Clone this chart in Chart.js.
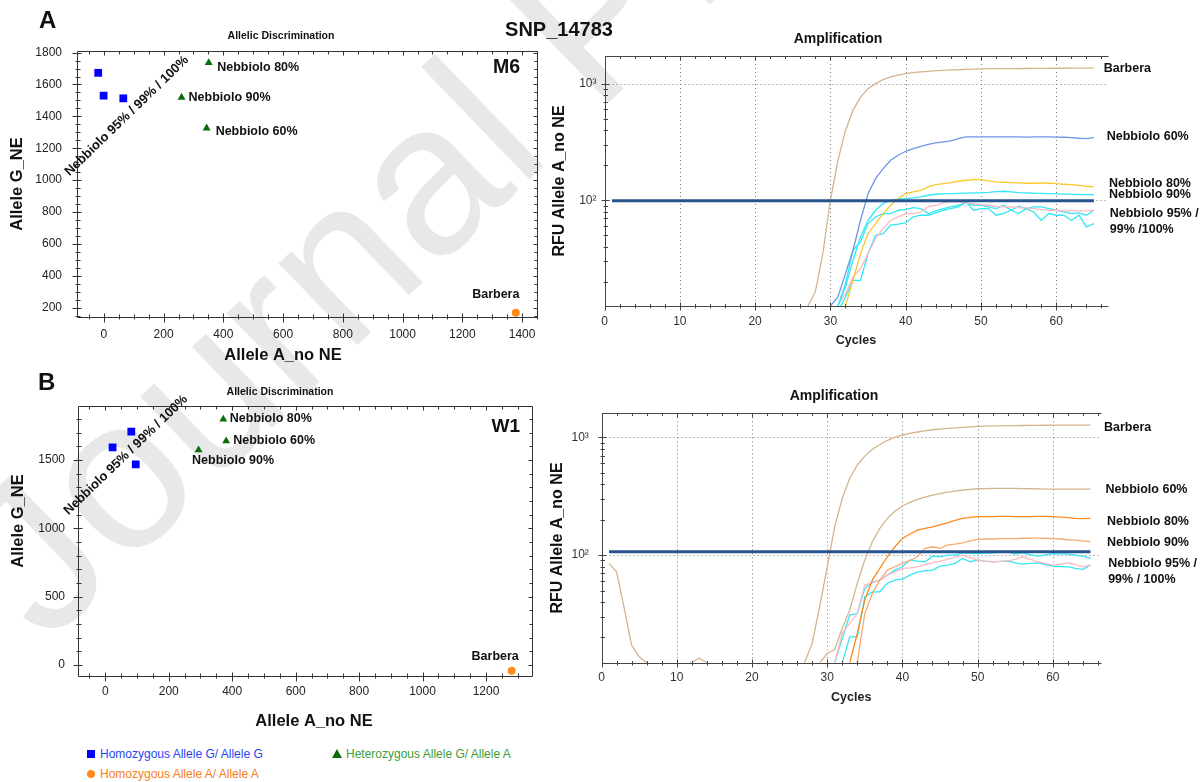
<!DOCTYPE html>
<html lang="en">
<head>
<meta charset="utf-8">
<title>SNP_14783 - allelic discrimination and amplification</title>
<script src="https://cdn.jsdelivr.net/npm/chart.js@4.4.1/dist/chart.umd.min.js"></script>
<style>
  html, body { margin: 0; padding: 0; background: #fff; }
  body { position: relative; width: 1204px; height: 782px; overflow: hidden;
         font-family: "Liberation Sans", Arial, Helvetica, sans-serif; color: #111; }
  canvas { position: absolute; }
  .txt { position: absolute; white-space: nowrap; }
  .watermark { left: 46px; top: 464px; font-size: 215px; line-height: 215px; color: #e8e8e8;
               transform-origin: 0 182px; transform: rotate(-44deg); }
  .letter { font-weight: bold; font-size: 24px; line-height: 24px; }
  .snp { font-weight: bold; font-size: 20px; line-height: 20px; width: 200px; text-align: center; }
  .leg { font-size: 12px; line-height: 16px; }
  .mk { position: absolute; }
</style>
</head>
<body>
<div class="txt watermark">Journal Pre-proof</div>

<canvas id="scatA" width="564" height="370" style="left:0;top:0"></canvas>
<canvas id="ampA" width="664" height="370" style="left:540px;top:0"></canvas>
<canvas id="scatB" width="564" height="365" style="left:0;top:370px"></canvas>
<canvas id="ampB" width="664" height="340" style="left:540px;top:380px"></canvas>

<div class="txt letter" style="left:39px;top:8px">A</div>
<div class="txt letter" style="left:38px;top:370px">B</div>
<div class="txt snp" style="left:459px;top:19px">SNP_14783</div>

<div class="mk" style="left:87px;top:750px;width:8px;height:8px;background:#0000ff"></div>
<div class="txt leg" style="left:100px;top:746px;color:#2746f0">Homozygous Allele G/ Allele G</div>
<div class="mk" style="left:332px;top:749px;width:0;height:0;border-left:5px solid transparent;border-right:5px solid transparent;border-bottom:9px solid #0b6e0b"></div>
<div class="txt leg" style="left:346px;top:746px;color:#3a9d3a">Heterozygous Allele G/ Allele A</div>
<div class="mk" style="left:87px;top:770px;width:8px;height:8px;border-radius:50%;background:#ff8c1a"></div>
<div class="txt leg" style="left:100px;top:766px;color:#f7801a">Homozygous Allele A/ Allele A</div>

<script>
const FONT = '"Liberation Sans", Arial, Helvetica, sans-serif';
Chart.defaults.font.family = FONT;
Chart.defaults.color = '#222';
Chart.defaults.animation = false;

// --- ALLELIC DISCRIMINATION (end-point RFU, [allele A, allele G]) ---
const A_HOM_G = [[-19, 1673], [-1, 1530], [65, 1513]];     // Nebbiolo 95% / 99% / 100%
const A_HET   = [[351, 1736], [260, 1519], [344, 1326]];   // Nebbiolo 80%, 90%, 60%
const A_HOM_A = [[1379, 169]];                              // Barbera
const B_HOM_G = [[23, 1593], [82, 1707], [96, 1468]];
const B_HET   = [[372, 1798], [381, 1639], [294, 1573]];   // Nebbiolo 80%, 60%, 90%
const B_HOM_A = [[1281, -41]];

const A_X_TICKS = [0, 200, 400, 600, 800, 1000, 1200, 1400];
const A_Y_TICKS = [200, 400, 600, 800, 1000, 1200, 1400, 1600, 1800];
const B_X_TICKS = [0, 200, 400, 600, 800, 1000, 1200];
const B_Y_TICKS = [0, 500, 1000, 1500];

// --- AMPLIFICATION (RFU allele A per cycle, null = below the plotted range) ---
const _ = null;
const CYCLES = [1, 2, 3, 4, 5, 6, 7, 8, 9, 10, 11, 12, 13, 14, 15, 16, 17, 18, 19, 20,
  21, 22, 23, 24, 25, 26, 27, 28, 29, 30, 31, 32, 33, 34, 35, 36, 37, 38, 39, 40,
  41, 42, 43, 44, 45, 46, 47, 48, 49, 50, 51, 52, 53, 54, 55, 56, 57, 58, 59, 60,
  61, 62, 63, 64, 65];
const AMP_X_TICKS = [0, 10, 20, 30, 40, 50, 60];
const AMP_Y_TICKS = [100, 1000];
const AMP_Y_LABELS = ['10²', '10³'];
const AMP_Y_MINOR = [20, 30, 40, 50, 60, 70, 80, 90, 200, 300, 400, 500, 600, 700, 800, 900];

// M6
const M6_THRESHOLD = 99;
const M6_BARBERA = [_,_,_,_,_,_,_,_,_,_, _,_,_,_,_,_,_,_,_,_, _,_,_,_,_,_,
  12.4, 16.4, 35, 100, 220, 395, 590, 765, 905, 1000, 1080, 1140, 1180, 1220, 1240, 1260, 1275,
  1290, 1300, 1310, 1315, 1325, 1330, 1340, 1342, 1344, 1345, 1346, 1347, 1348, 1350, 1350,
  1352, 1354, 1355, 1356, 1358, 1360, 1362];
const M6_NEB60 = [_,_,_,_,_,_,_,_,_,_, _,_,_,_,_,_,_,_,_,_, _,_,_,_,_,_,_,_,_,
  12.4, 14.8, 23.5, 37.3, 67.4, 114, 153, 187, 220, 243, 263, 277, 290, 302, 310, 316, 323, 338,
  349, 349, 350, 350, 349, 349, 350, 349, 348, 349, 350, 349, 348, 347, 345, 340, 338, 345];
const M6_NEB80 = [_,_,_,_,_,_,_,_,_,_, _,_,_,_,_,_,_,_,_,_, _,_,_,_,_,_,_,_,_,_, _,
  12.4, 20.6, 34.9, 51.8, 63.1, 76.9, 90.6, 103.3, 114, 117.9, 121.8, 130, 136.2, 139, 141.8,
  145.5, 148.4, 150.4, 150.4, 146.4, 143.6, 142.7, 141.8, 140.8, 139.9, 139.9, 140.8, 139.9,
  139, 137.1, 136.2, 134.4, 131.8, 130];
const M6_NEB90 = [_,_,_,_,_,_,_,_,_,_, _,_,_,_,_,_,_,_,_,_, _,_,_,_,_,_,_,_,_,_,
  12.4, 18.1, 30.6, 48.5, 67.4, 82.1, 93.6, 100, 102, 103.3, 104.7, 106.8, 110.4, 112.6, 113.3,
  114, 114.5, 115, 115.5, 116, 117, 118.5, 119.4, 118, 116.3, 115.5, 114.8, 114.5, 114, 113.3,
  112.8, 112.3, 112, 111.8, 111.8];
const M6_NEB95_1 = [_,_,_,_,_,_,_,_,_,_, _,_,_,_,_,_,_,_,_,_, _,_,_,_,_,_,_,_,_,_,
  12.4, 19.3, 37.3, 44, 63.1, 71.9, 76.9, 76.9, 82.1, 83.2, 86.5, 84.8, 76.9, 81, 84.8, 87.7,
  90.6, 94.9, 90.6, 90.6, 87.7, 84.8, 90.6, 82.1, 88.8, 84.8, 87.7, 87.7, 84.8, 82.1, 79.4,
  76.9, 77.9, 74.4, 82.1];
const M6_NEB95_2 = [_,_,_,_,_,_,_,_,_,_, _,_,_,_,_,_,_,_,_,_, _,_,_,_,_,_,_,_,_,_,
  11, 14.8, 20.6, 20.6, 34.9, 50.1, 51.8, 61.1, 62.3, 63.9, 71.9, 74.4, 74.4, 77.9, 82.1, 84.8,
  87.7, 96.8, 82.1, 84.8, 84.8, 74.4, 76.9, 82.1, 76.9, 84.8, 79.4, 67.4, 76.9, 74.4, 74.4,
  67.4, 74.4, 59.1, 63.1];
const M6_NEB95_3 = [_,_,_,_,_,_,_,_,_,_, _,_,_,_,_,_,_,_,_,_, _,_,_,_,_,_,_,_,_,_,
  12.6, 15.8, 22, 25.9, 34.9, 46.9, 57.2, 67.4, 71.9, 76.9, 76.9, 79.4, 87.7, 90.6, 94.9, 96.8,
  96.8, 94.9, 93.6, 91.8, 90.6, 88.8, 87.7, 87.7, 86.5, 85.9, 84.8, 83.2, 82.1, 82.1, 81, 81,
  81, 81, 82.1];

// W1
const W1_THRESHOLD = 107;
const W1_BARBERA = [85, 72, 36, 17.2, 13.7, 12.2, 11.5, 11, 11, 11, 11.5, 12.3, 13.3, 12.2,
  11, 11, 11, 11, 11, 11, 11, 11, 11, 11, 11, 11,
  12.2, 17.8, 36.4, 79.6, 174, 303, 449, 582, 693, 790, 870, 944, 1000, 1047, 1080, 1110, 1135,
  1160, 1175, 1190, 1203, 1215, 1228, 1240, 1245, 1249, 1252, 1255, 1258, 1260, 1262, 1265,
  1267, 1270, 1270, 1270, 1270, 1270, 1270];
const W1_NEB60 = [_,_,_,_,_,_,_,_,_,_, _,_,_,_,_,_,_,_,_,_, _,_,_,_,_,_,_,_,
  12.2, 14.6, 15.8, 23.8, 34.1, 57.5, 90.7, 129.8, 168.5, 205, 236, 261, 280, 297, 310, 323,
  333, 343, 350, 357, 362, 366, 367, 368, 368, 368, 368, 367, 366, 365, 364, 364, 364, 363,
  363, 364, 364];
const W1_NEB80 = [_,_,_,_,_,_,_,_,_,_, _,_,_,_,_,_,_,_,_,_, _,_,_,_,_,_,_,_,_,_, _,_,
  12.2, 21.6, 41.5, 61.3, 77, 96.8, 117.7, 138.6, 151, 163, 169, 174, 181, 188, 197, 205, 209,
  212, 212, 212, 213, 213, 212, 212, 212, 213, 213, 212, 210, 208, 205, 204, 205];
const W1_NEB90 = [_,_,_,_,_,_,_,_,_,_, _,_,_,_,_,_,_,_,_,_, _,_,_,_,_,_,_,_,_,_, _,_,_,
  12.2, 31.9, 47.2, 61.3, 74.6, 79.6, 85, 90, 96.8, 114, 117.7, 114, 121.6, 124, 127, 132, 136,
  137, 137, 138, 138, 138, 139, 139.5, 139.5, 139, 138, 137, 135, 134, 132, 130];
const W1_NEB95_1 = [_,_,_,_,_,_,_,_,_,_, _,_,_,_,_,_,_,_,_,_, _,_,_,_,_,_,_,_,_,_,
  12.2, 19.6, 30.9, 31.9, 52, 59, 61.3, 67.6, 74.6, 79.6, 90.7, 89, 87.8, 98, 96.8, 100, 100,
  104.6, 103.5, 103, 104, 104.6, 105.5, 106.7, 102, 104.6, 101, 98, 100.5, 103, 102.5, 102,
  100, 98, 93.7];
const W1_NEB95_2 = [_,_,_,_,_,_,_,_,_,_, _,_,_,_,_,_,_,_,_,_, _,_,_,_,_,_,_,_,_,_, _,
  12.2, 20.2, 20.2, 44.2, 48.8, 48.8, 57.5, 61.3, 62.5, 67.6, 72, 73.6, 74.6, 80.6, 82.3, 85,
  93.7, 87.8, 90.7, 89, 87.8, 88.5, 89, 86, 83.8, 85, 86, 83, 80.6, 80, 79.6, 77, 75.6, 82.3];
const W1_NEB95_3 = [_,_,_,_,_,_,_,_,_,_, _,_,_,_,_,_,_,_,_,_, _,_,_,_,_,_,_,_,_,_,
  12.2, 21.6, 26.3, 31.9, 55.6, 58.2, 61.3, 67.6, 72, 77, 78, 79.6, 83, 86, 89, 91.9, 96, 100,
  95, 90.7, 89, 87.8, 88.5, 89.5, 92, 96.8, 92, 87.8, 85, 82.3, 84, 86, 83, 79.6, 82.3];

// --- COLOURS ---
const BLUE = '#0000ff', GREEN = '#0b6e0b', ORANGE = '#ff8c1a';
const TAN = '#d4b48e', CORNFLOWER = '#6f95e6', GOLD = '#f9c92b', CYAN = '#35e6f3',
      PINK = '#ffb8c4', DARKORANGE = '#ff8a1c', SANDY = '#f6aa6e', THRESH = '#27538f';

const f = (size, bold) => `${bold ? 'bold ' : ''}${size}px ${FONT}`;

// --- PLUGINS ---
// frame + inward/outward tick marks on the plot border
const frameTicks = {
  id: 'frameTicks',
  afterDraw(chart, args, o) {
    const { ctx, chartArea: a, scales: { x, y } } = chart;
    const L = Math.round(a.left) + 0.5, R = Math.round(a.right) + 0.5;
    const T = Math.round(a.top) + 0.5, B = Math.round(a.bottom) + 0.5;
    const stepped = (scale, step) => {
      const out = [];
      for (let v = Math.ceil(scale.min / step) * step; v <= scale.max; v += step) out.push(v);
      return out;
    };
    const isMajor = (list, v) => list.some(m => Math.abs(m - v) < 1e-6);
    const xVals = stepped(x, o.xStep);
    const yVals = o.yMinor ? o.yMinor.concat(o.yMajor) : stepped(y, o.yStep);

    ctx.save();
    ctx.strokeStyle = o.color;
    ctx.lineWidth = 1;
    ctx.beginPath();
    ctx.moveTo(R, T); ctx.lineTo(L, T); ctx.lineTo(L, B); ctx.lineTo(R, B);
    if (o.right) ctx.lineTo(R, T);
    xVals.forEach(v => {
      const px = Math.round(x.getPixelForValue(v)) + 0.5;
      if (px < L - 0.1 || px > R + 0.1) return;
      const m = isMajor(o.xMajor, v);
      const inn = m ? o.majorIn : o.minorIn, out = m ? o.majorOut : o.minorOut;
      ctx.moveTo(px, B - inn); ctx.lineTo(px, B + out);
      ctx.moveTo(px, T); ctx.lineTo(px, T + inn);
    });
    yVals.forEach(v => {
      const py = Math.round(y.getPixelForValue(v)) + 0.5;
      if (py < T - 0.1 || py > B + 0.1) return;
      const m = isMajor(o.yMajor, v);
      const inn = m ? o.majorIn : o.minorIn, out = m ? o.majorOut : o.minorOut;
      ctx.moveTo(L - out, py); ctx.lineTo(L + inn, py);
      if (o.right) { ctx.moveTo(R - inn, py); ctx.lineTo(R, py); }
    });
    ctx.stroke();
    ctx.restore();
  }
};

// dotted reference grid of the amplification plots
const dottedGrid = {
  id: 'dottedGrid',
  beforeDatasetsDraw(chart, args, o) {
    const { ctx, chartArea: a, scales: { x, y } } = chart;
    ctx.save();
    ctx.strokeStyle = o.color;
    ctx.lineWidth = 1;
    ctx.setLineDash([1, 3]);
    ctx.beginPath();
    o.x.forEach(v => {
      const px = Math.round(x.getPixelForValue(v)) + 0.5;
      ctx.moveTo(px, a.top); ctx.lineTo(px, a.bottom);
    });
    o.y.forEach(v => {
      const py = Math.round(y.getPixelForValue(v)) + 0.5;
      ctx.moveTo(a.left, py); ctx.lineTo(a.right, py);
    });
    ctx.stroke();
    ctx.restore();
  }
};

// text marks: anchored to data values (at) or to canvas pixels (px, py)
function textMarks(items) {
  return {
    id: 'textMarks',
    afterDraw(chart) {
      const { ctx, scales } = chart;
      items.forEach(it => {
        let px = it.px, py = it.py;
        if (it.at) {
          px = scales.x.getPixelForValue(it.at[0]);
          py = scales.y.getPixelForValue(it.at[1]);
        }
        ctx.save();
        ctx.translate(px + (it.dx || 0), py + (it.dy || 0));
        if (it.rotate) ctx.rotate(it.rotate * Math.PI / 180);
        ctx.font = it.font || f(12.5, true);
        ctx.fillStyle = it.color || '#111';
        ctx.textAlign = it.align || 'left';
        ctx.textBaseline = 'middle';
        ctx.fillText(it.text, 0, 0);
        ctx.restore();
      });
    }
  };
}

const pts = list => list.map(([x, y]) => ({ x, y }));
const noGrid = { display: false, drawTicks: false };

function scatterChart(id, c) {
  return new Chart(document.getElementById(id), {
    type: 'scatter',
    data: {
      datasets: [
        { label: 'Homozygous Allele G/ Allele G', data: pts(c.homG), pointStyle: 'rect',
          pointRadius: 5.5, backgroundColor: BLUE, borderColor: BLUE, borderWidth: 0 },
        { label: 'Heterozygous Allele G/ Allele A', data: pts(c.het), pointStyle: 'triangle',
          pointRadius: 4.6, backgroundColor: GREEN, borderColor: GREEN, borderWidth: 0 },
        { label: 'Homozygous Allele A/ Allele A', data: pts(c.homA), pointStyle: 'circle',
          pointRadius: 4, backgroundColor: ORANGE, borderColor: ORANGE, borderWidth: 0 },
      ],
    },
    options: {
      responsive: false,
      animation: false,
      layout: { padding: { left: 0, right: c.padRight, top: c.padTop, bottom: 0 } },
      scales: {
        x: {
          type: 'linear', min: c.xMin, max: c.xMax,
          afterBuildTicks: s => { s.ticks = c.xTicks.map(value => ({ value })); },
          afterFit: s => { s.height = c.xHeight; },
          grid: noGrid, border: { display: false },
          ticks: { padding: c.xPad, autoSkip: false, maxRotation: 0, font: { size: 12 }, color: '#222',
                   callback: v => String(v) },
        },
        y: {
          type: 'linear', min: c.yMin, max: c.yMax,
          afterBuildTicks: s => { s.ticks = c.yTicks.map(value => ({ value })); },
          afterFit: s => { s.width = c.yWidth; },
          grid: noGrid, border: { display: false },
          ticks: { padding: c.yPad, autoSkip: false, font: { size: 12 }, color: '#222',
                   callback: v => String(v) },
          title: c.yTitle,
        },
      },
      plugins: {
        legend: { display: false },
        tooltip: { enabled: false },
        frameTicks: { color: '#333', right: true, xStep: 50, yStep: c.yStep,
          xMajor: c.xTicks, yMajor: c.yTicks, majorIn: 4, majorOut: 5, minorIn: 3, minorOut: 2 },
      },
    },
    plugins: [frameTicks, textMarks(c.marks)],
  });
}

function ampChart(id, c) {
  const lines = c.series.map(([values, color]) => ({
    data: values.map((v, i) => ({ x: CYCLES[i], y: v })),
    borderColor: color, borderWidth: 1.3, pointRadius: 0, tension: 0,
  }));
  const threshold = {
    data: [{ x: CYCLES[0], y: c.threshold }, { x: CYCLES[CYCLES.length - 1], y: c.threshold }],
    borderColor: THRESH, borderWidth: 3, pointRadius: 0,
  };
  return new Chart(document.getElementById(id), {
    type: 'line',
    data: { datasets: [threshold, ...lines] },
    options: {
      responsive: false,
      animation: false,
      layout: { padding: { left: 0, right: c.padRight, top: c.padTop, bottom: 0 } },
      scales: {
        x: {
          type: 'linear', min: 0, max: c.xMax,
          afterBuildTicks: s => { s.ticks = AMP_X_TICKS.map(value => ({ value })); },
          afterFit: s => { s.height = c.xHeight; },
          grid: noGrid, border: { display: false },
          ticks: { padding: c.xPad, autoSkip: false, maxRotation: 0, font: { size: 12 }, color: '#333' },
          title: { display: true, text: 'Cycles', font: { size: 12.5, weight: 'bold' },
                   color: '#222', padding: { top: 0, bottom: c.cyclesPad } },
        },
        y: {
          type: 'logarithmic', min: c.yMin, max: c.yMax,
          afterBuildTicks: s => { s.ticks = AMP_Y_TICKS.map(value => ({ value })); },
          afterFit: s => { s.width = c.yWidth; },
          grid: noGrid, border: { display: false },
          ticks: { padding: c.yPad, autoSkip: false, font: { size: 12 }, color: '#333',
                   callback: (v, i) => AMP_Y_LABELS[i] },
          title: { display: true, text: 'RFU Allele A_no NE', font: { size: 16, weight: 'bold' },
                   color: '#111', padding: { top: c.rfuPad, bottom: 0 } },
        },
      },
      plugins: {
        legend: { display: false },
        tooltip: { enabled: false },
        dottedGrid: { color: '#777', x: AMP_X_TICKS.slice(1), y: AMP_Y_TICKS },
        frameTicks: { color: '#444', right: false, xStep: 2, yMinor: AMP_Y_MINOR,
          xMajor: AMP_X_TICKS, yMajor: AMP_Y_TICKS, majorIn: 4, majorOut: 4, minorIn: 2.5, minorOut: 2 },
      },
    },
    plugins: [dottedGrid, frameTicks, textMarks(c.marks)],
  });
}

// --- PANEL A (M6) ---
scatterChart('scatA', {
  homG: A_HOM_G, het: A_HET, homA: A_HOM_A,
  xMin: -90, xMax: 1450, yMin: 142, yMax: 1810, xTicks: A_X_TICKS, yTicks: A_Y_TICKS, yStep: 50,
  padTop: 51, padRight: 27, xHeight: 53, yWidth: 77, xPad: 10.8, yPad: 15,
  yTitle: { display: true, text: 'Allele G_NE', font: { size: 16.5, weight: 'bold' }, color: '#111',
            padding: { top: 7.1, bottom: 0 } },
  marks: [
    { text: 'Allelic Discrimination', px: 281, py: 36, align: 'center', font: f(10.5, true) },
    { text: 'Allele A_no NE', px: 283, py: 355, align: 'center', font: f(16.5, true) },
    { text: 'Nebbiolo 80%', at: A_HET[0], dx: 8.5, dy: 5 },
    { text: 'Nebbiolo 90%', at: A_HET[1], dx: 7, dy: 0 },
    { text: 'Nebbiolo 60%', at: A_HET[2], dx: 9, dy: 3 },
    { text: 'Barbera', at: A_HOM_A[0], dx: -20, dy: -18, align: 'center' },
    { text: 'Nebbiolo 95% / 99% / 100%', at: [77, 1403], rotate: -44, align: 'center', font: f(13, true) },
    { text: 'M6', at: [1393, 1703], align: 'right', font: f(19.5, true) },
  ],
});

ampChart('ampA', {
  threshold: M6_THRESHOLD,
  series: [[M6_BARBERA, TAN], [M6_NEB60, CORNFLOWER], [M6_NEB80, GOLD], [M6_NEB90, CYAN],
           [M6_NEB95_3, PINK], [M6_NEB95_1, CYAN], [M6_NEB95_2, CYAN]],
  xMax: 66.8, yMin: 12.4, yMax: 1725,
  padTop: 56, padRight: 96.5, xHeight: 64, yWidth: 64.5, xPad: 8.8, yPad: 8,
  cyclesPad: 21.5, rfuPad: 10.4,
  marks: [
    { text: 'Amplification', px: 298, py: 39, align: 'center', font: f(14, true) },
    { text: 'Barbera', at: [66.3, 1343] },
    { text: 'Nebbiolo 60%', at: [66.7, 353] },
    { text: 'Nebbiolo 80%', at: [67, 139] },
    { text: 'Nebbiolo 90%', at: [67, 112.6] },
    { text: 'Nebbiolo 95% /', at: [67.1, 76.9] },
    { text: '99% /100%', at: [67.1, 56.1] },
  ],
});

// --- PANEL B (W1) ---
scatterChart('scatB', {
  homG: B_HOM_G, het: B_HET, homA: B_HOM_A,
  xMin: -86, xMax: 1345, yMin: -78, yMax: 1895, xTicks: B_X_TICKS, yTicks: B_Y_TICKS, yStep: 100,
  padTop: 36, padRight: 32, xHeight: 59.3, yWidth: 78, xPad: 9.1, yPad: 13,
  yTitle: { display: false },
  marks: [
    { text: 'Allelic Discrimination', px: 280, py: 22, align: 'center', font: f(10.5, true) },
    { text: 'Allele A_no NE', px: 314, py: 351, align: 'center', font: f(16.5, true) },
    { text: 'Allele G_NE', px: 18, py: 151, rotate: -90, align: 'center', font: f(16.5, true) },
    { text: 'Nebbiolo 80%', at: B_HET[0], dx: 6.5, dy: -1 },
    { text: 'Nebbiolo 60%', at: B_HET[1], dx: 7, dy: 0 },
    { text: 'Nebbiolo 90%', at: B_HET[2], dx: 34.5, dy: 11, align: 'center' },
    { text: 'Barbera', at: B_HOM_A[0], dx: -16.5, dy: -14.5, align: 'center' },
    { text: 'Nebbiolo 95% / 99% / 100%', at: [65, 1536], rotate: -44, align: 'center', font: f(13, true) },
    { text: 'W1', at: [1307, 1741], align: 'right', font: f(19, true) },
  ],
});

ampChart('ampB', {
  threshold: W1_THRESHOLD,
  series: [[W1_BARBERA, TAN], [W1_NEB60, TAN], [W1_NEB80, DARKORANGE], [W1_NEB90, SANDY],
           [W1_NEB95_3, PINK], [W1_NEB95_1, CYAN], [W1_NEB95_2, CYAN]],
  xMax: 66.4, yMin: 12.2, yMax: 1600,
  padTop: 33.3, padRight: 103, xHeight: 57.3, yWidth: 61.5, xPad: 8.1, yPad: 12.7,
  cyclesPad: 14.5, rfuPad: 7.9,
  marks: [
    { text: 'Amplification', px: 294, py: 16, align: 'center', font: f(14, true) },
    { text: 'Barbera', at: [66.8, 1210] },
    { text: 'Nebbiolo 60%', at: [67, 358] },
    { text: 'Nebbiolo 80%', at: [67.2, 193] },
    { text: 'Nebbiolo 90%', at: [67.2, 126.6] },
    { text: 'Nebbiolo 95% /', at: [67.35, 84.8] },
    { text: '99% / 100%', at: [67.35, 62.4] },
  ],
});
</script>
</body>
</html>
